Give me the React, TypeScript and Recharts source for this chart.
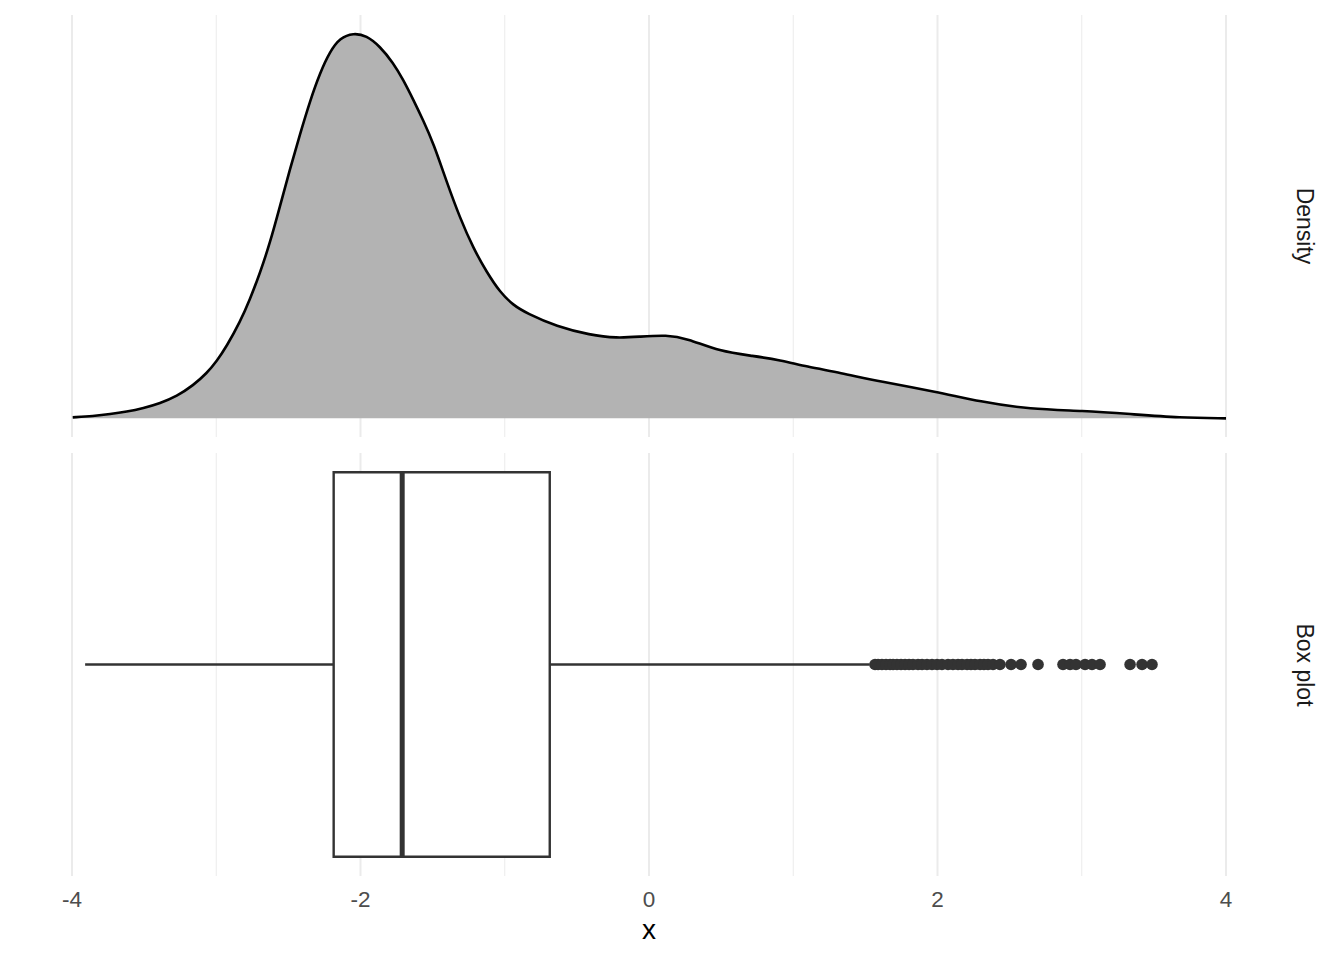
import {
  ComposedChart, Area, Scatter, XAxis, YAxis, CartesianGrid,
  ReferenceArea, ReferenceLine,
} from "recharts"

// x breaks (ggplot theme_minimal grid)
const xMajor = [-4, -2, 0, 2, 4]
const xMinor = [-3, -1, 1, 3]

// kernel density estimate
const densX = [
  -3.995, -3.852, -3.736, -3.621, -3.505, -3.39, -3.274, -3.159, -3.066, -2.997,
  -2.928, -2.836, -2.766, -2.697, -2.628, -2.558, -2.489, -2.419, -2.35, -2.281,
  -2.211, -2.142, -2.05, -1.958, -1.866, -1.773, -1.703, -1.634, -1.565, -1.495,
  -1.402, -1.31, -1.218, -1.125, -1.033, -0.941, -0.848, -0.64, -0.409, -0.224,
  -0.062, 0.123, 0.261, 0.492, 0.723, 0.908, 1.093, 1.324, 1.601, 1.994,
  2.295, 2.641, 3.011, 3.334, 3.681, 4.0,
]
const densY = [
  0.001, 0.0024, 0.0043, 0.0069, 0.0106, 0.0156, 0.0229, 0.0343, 0.0468, 0.0593,
  0.0749, 0.0998, 0.1238, 0.1508, 0.182, 0.2205, 0.259, 0.2954, 0.3297, 0.3588,
  0.3813, 0.3952, 0.4004, 0.3976, 0.3865, 0.3692, 0.3515, 0.331, 0.3094, 0.286,
  0.2454, 0.208, 0.1768, 0.1518, 0.131, 0.1175, 0.1092, 0.0953, 0.0866, 0.0832,
  0.0849, 0.0866, 0.0832, 0.0693, 0.0648, 0.0606, 0.0537, 0.0474, 0.0381, 0.0277,
  0.0173, 0.0094, 0.0079, 0.0045, 0.0006, 0.0,
]

// box plot stats: lower whisker, Q1, median, Q3, upper whisker
const boxStats = [-3.909, -2.186, -1.711, -0.688, 1.53]
const outliers = [
  1.567, 1.588, 1.615, 1.643, 1.671, 1.692, 1.719, 1.747, 1.775, 1.803, 1.83,
  1.865, 1.893, 1.927, 1.962, 1.997, 2.031, 2.073, 2.107, 2.142, 2.17, 2.205,
  2.232, 2.26, 2.295, 2.322, 2.35, 2.385, 2.433, 2.51, 2.579, 2.697, 2.87,
  2.919, 2.96, 3.023, 3.071, 3.127, 3.335, 3.418, 3.487,
]

const densData = densX.map((x, i) => ({ x, y: densY[i] }))
const outlierData = outliers.map(x => ({ x, y: 0 }))

const FONT = "'Liberation Sans', Arial, sans-serif"
const GRID = "#EBEBEB"
const INK = "#333333"

const stripStyle = (top: number): React.CSSProperties => ({
  position: "absolute",
  left: 1304,
  top,
  transform: "translate(-50%, -50%) rotate(90deg)",
  fontSize: 23,
  color: "#1A1A1A",
  whiteSpace: "nowrap",
  lineHeight: 1,
})

export default function App() {
  const [lo, q1, med, q3, hi] = boxStats
  return (
    <div style={{ position: "absolute", left: 0, top: 0, width: 1344, height: 960, background: "#fff", fontFamily: FONT }}>
      <div style={{ position: "absolute", left: 0, top: 0 }}>
        <ComposedChart width={1344} height={440} data={densData}
          margin={{ top: 15, right: 118, bottom: 3, left: 72 }}>
          <CartesianGrid horizontal={false} verticalValues={xMinor} stroke={GRID} strokeWidth={1} />
          <CartesianGrid horizontal={false} verticalValues={xMajor} stroke={GRID} strokeWidth={2} />
          <XAxis type="number" dataKey="x" domain={[-4, 4]} ticks={xMajor} hide />
          <YAxis type="number" domain={[-0.0194, 0.419]} hide />
          <Area type="basis" dataKey="y" baseValue={0} stroke="#000" strokeWidth={2.6}
            fill="#B3B3B3" fillOpacity={1} isAnimationActive={false} dot={false} activeDot={false} />
        </ComposedChart>
      </div>
      <div style={{ position: "absolute", left: 0, top: 440 }}>
        <ComposedChart width={1344} height={520}
          margin={{ top: 13, right: 118, bottom: 54, left: 72 }}>
          <CartesianGrid horizontal={false} verticalValues={xMinor} stroke={GRID} strokeWidth={1} />
          <CartesianGrid horizontal={false} verticalValues={xMajor} stroke={GRID} strokeWidth={2} />
          <XAxis type="number" dataKey="x" domain={[-4, 4]} ticks={xMajor} height={30}
            axisLine={false} tickLine={false} tickSize={0} tickMargin={15}
            tick={{ fontSize: 22.5, fill: "#4D4D4D", fontFamily: FONT }}
            label={{ value: "x", position: "bottom", offset: 13, fontSize: 28, fill: "#000", fontFamily: FONT }} />
          <YAxis type="number" dataKey="y" domain={[-0.44, 0.44]} hide />
          <ReferenceLine segment={[{ x: lo, y: 0 }, { x: q1, y: 0 }]} stroke={INK} strokeWidth={2.4} />
          <ReferenceLine segment={[{ x: q3, y: 0 }, { x: hi, y: 0 }]} stroke={INK} strokeWidth={2.4} />
          <ReferenceArea x1={q1} x2={q3} y1={-0.4} y2={0.4} fill="#FFFFFF" fillOpacity={1}
            stroke={INK} strokeWidth={2.4} />
          <ReferenceLine segment={[{ x: med, y: -0.4 }, { x: med, y: 0.4 }]} stroke={INK} strokeWidth={5} />
          <Scatter data={outlierData} dataKey="y" isAnimationActive={false}
            shape={(p: any) => <circle cx={p.cx} cy={p.cy} r={5.8} fill={INK} />} />
        </ComposedChart>
      </div>
      <div style={stripStyle(226)}>Density</div>
      <div style={stripStyle(664.5)}>Box plot</div>
    </div>
  )
}
